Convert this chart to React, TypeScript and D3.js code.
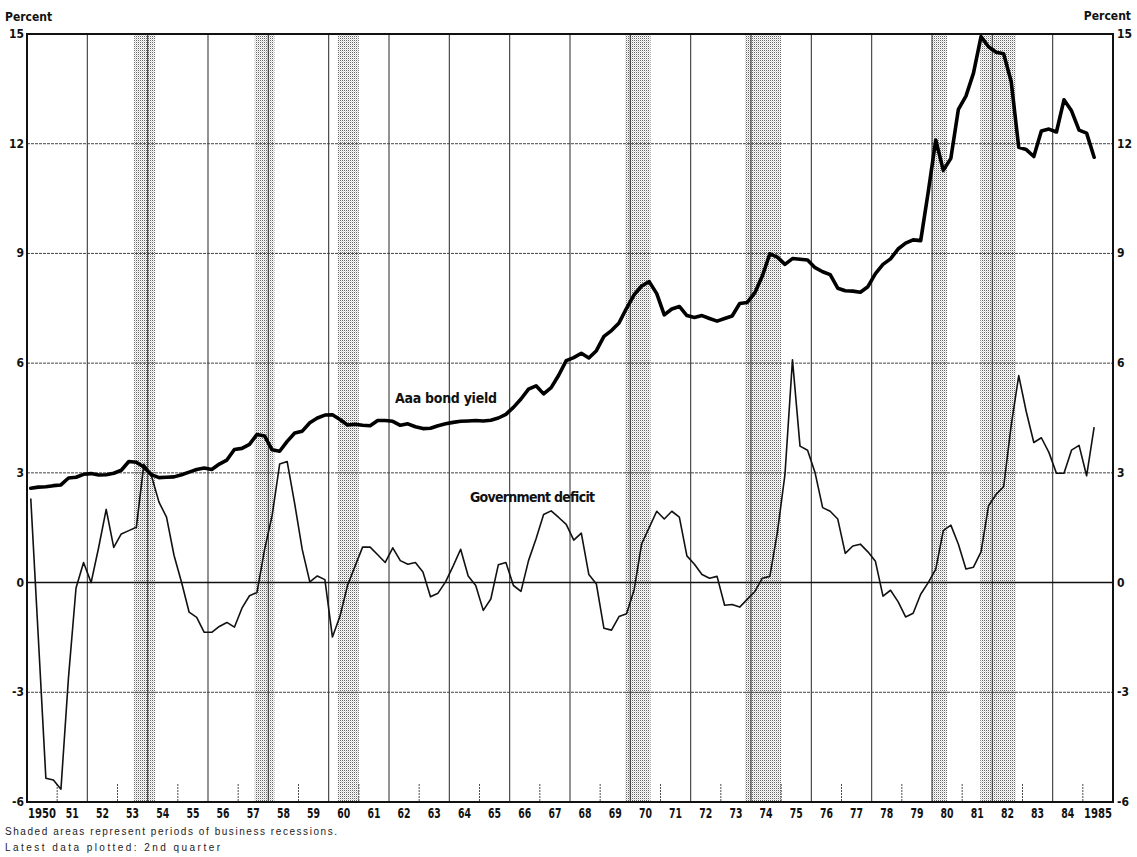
import React, { useEffect, useRef } from 'react';
import * as d3 from 'd3';

// quarterly data, first point = 1950 Q1, last point = 1985 Q2
const startYear = 1950;

// Aaa bond yield, percent
const bondYield = [
  2.58, 2.61, 2.62, 2.65, // 1950
  2.67, 2.86, 2.88, 2.96, // 1951
  2.98, 2.94, 2.95, 2.99, // 1952
  3.07, 3.31, 3.29, 3.16, // 1953
  2.95, 2.87, 2.88, 2.89, // 1954
  2.95, 3.02, 3.09, 3.13, // 1955
  3.09, 3.24, 3.35, 3.64, // 1956
  3.67, 3.78, 4.05, 4.01, // 1957
  3.63, 3.59, 3.86, 4.09, // 1958
  4.14, 4.37, 4.50, 4.58, // 1959
  4.59, 4.46, 4.31, 4.33, // 1960
  4.30, 4.29, 4.43, 4.43, // 1961
  4.41, 4.30, 4.34, 4.26, // 1962
  4.21, 4.22, 4.29, 4.34, // 1963
  4.38, 4.41, 4.42, 4.43, // 1964
  4.42, 4.44, 4.50, 4.60, // 1965
  4.79, 5.02, 5.29, 5.38, // 1966
  5.16, 5.33, 5.67, 6.07, // 1967
  6.15, 6.27, 6.14, 6.34, // 1968
  6.73, 6.89, 7.10, 7.50, // 1969
  7.87, 8.11, 8.23, 7.90, // 1970
  7.32, 7.48, 7.55, 7.30, // 1971
  7.25, 7.30, 7.22, 7.15, // 1972
  7.22, 7.29, 7.63, 7.66, // 1973
  7.92, 8.38, 8.99, 8.90, // 1974
  8.70, 8.86, 8.84, 8.82, // 1975
  8.61, 8.50, 8.42, 8.05, // 1976
  7.98, 7.97, 7.94, 8.09, // 1977
  8.45, 8.70, 8.85, 9.12, // 1978
  9.28, 9.37, 9.35, 10.68, // 1979
  12.10, 11.27, 11.60, 12.94, // 1980
  13.30, 13.93, 14.93, 14.65, // 1981
  14.50, 14.46, 13.70, 11.90, // 1982
  11.84, 11.65, 12.35, 12.40, // 1983
  12.32, 13.20, 12.90, 12.37, // 1984
  12.29, 11.63 // 1985
];

// Government deficit, percent
const govDeficit = [
  2.30, -1.50, -5.35, -5.40, // 1950
  -5.65, -2.60, -0.15, 0.55, // 1951
  0.00, 0.96, 2.00, 0.96, // 1952
  1.33, 1.42, 1.51, 3.24, // 1953
  2.92, 2.20, 1.79, 0.74, // 1954
  0.00, -0.81, -0.95, -1.36, // 1955
  -1.36, -1.20, -1.09, -1.22, // 1956
  -0.70, -0.36, -0.27, 0.90, // 1957
  1.83, 3.24, 3.31, 2.15, // 1958
  0.90, 0.02, 0.18, 0.08, // 1959
  -1.49, -0.92, -0.08, 0.45, // 1960
  0.97, 0.97, 0.76, 0.55, // 1961
  0.95, 0.60, 0.50, 0.55, // 1962
  0.29, -0.39, -0.29, 0.02, // 1963
  0.45, 0.91, 0.18, -0.08, // 1964
  -0.76, -0.45, 0.49, 0.55, // 1965
  -0.08, -0.24, 0.60, 1.20, // 1966
  1.86, 1.96, 1.78, 1.59, // 1967
  1.16, 1.35, 0.22, -0.04, // 1968
  -1.25, -1.30, -0.93, -0.85, // 1969
  -0.20, 1.06, 1.50, 1.95, // 1970
  1.74, 1.95, 1.79, 0.73, // 1971
  0.50, 0.22, 0.12, 0.17, // 1972
  -0.62, -0.60, -0.67, -0.46, // 1973
  -0.25, 0.12, 0.17, 1.38, // 1974
  2.95, 6.09, 3.73, 3.62, // 1975
  3.00, 2.05, 1.95, 1.74, // 1976
  0.80, 1.00, 1.05, 0.84, // 1977
  0.58, -0.37, -0.21, -0.52, // 1978
  -0.94, -0.84, -0.32, 0.00, // 1979
  0.37, 1.42, 1.57, 1.05, // 1980
  0.37, 0.42, 0.84, 2.10, // 1981
  2.41, 2.62, 4.30, 5.66, // 1982
  4.67, 3.83, 3.96, 3.56, // 1983
  2.99, 2.99, 3.62, 3.75, // 1984
  2.92, 4.25 // 1985
];

// business recessions (shaded), in fractional years
const recessionStart = [1953.55, 1957.55, 1960.3, 1969.83, 1973.8, 1980.0, 1981.6];
const recessionEnd = [1954.25, 1958.2, 1961.0, 1970.67, 1975.0, 1980.5, 1982.78];

const yTicks = [-6, -3, 0, 3, 6, 9, 12, 15];
const yearLabels = ['1950', '51', '52', '53', '54', '55', '56', '57', '58', '59',
  '60', '61', '62', '63', '64', '65', '66', '67', '68', '69',
  '70', '71', '72', '73', '74', '75', '76', '77', '78', '79',
  '80', '81', '82', '83', '84', '1985'];

const boldFont = '"Liberation Sans Narrow", "DejaVu Sans Condensed", "Roboto Condensed", "Liberation Sans", sans-serif';
const lightFont = '"Liberation Sans", "DejaVu Sans", sans-serif';

export default function App() {
  const ref = useRef<SVGSVGElement>(null);

  useEffect(() => {
    const svg = d3.select(ref.current);
    svg.selectAll('*').remove();

    const left = 27, right = 1113, top = 34, bottom = 802;

    const x = d3.scaleLinear().domain([1950, 1986]).range([left, right]);
    const y = d3.scaleLinear().domain([-6, 15]).range([bottom, top]);

    const defs = svg.append('defs');
    const pat = defs.append('pattern')
      .attr('id', 'stipple')
      .attr('patternUnits', 'userSpaceOnUse')
      .attr('width', 2)
      .attr('height', 2);
    pat.append('rect').attr('x', 0).attr('y', 0).attr('width', 1).attr('height', 1).attr('fill', '#666');
    pat.append('rect').attr('x', 1).attr('y', 1).attr('width', 1).attr('height', 1).attr('fill', '#d4d4d4');

    svg.append('rect').attr('width', 1137).attr('height', 857).attr('fill', '#fff');

    // recession shading
    svg.append('g')
      .selectAll('rect')
      .data(recessionStart)
      .enter()
        .append('rect')
        .attr('x', d => x(d))
        .attr('width', (d, i) => x(recessionEnd[i]) - x(d))
        .attr('y', top)
        .attr('height', bottom - top)
        .attr('fill', 'url(#stipple)');

    // vertical grid every other year, short ticks on the odd years
    const years = d3.range(1951, 1986);
    svg.append('g')
      .selectAll('line')
      .data(years)
      .enter()
        .append('line')
        .attr('x1', d => x(d))
        .attr('x2', d => x(d))
        .attr('y1', d => d % 2 === 0 ? top : bottom - 18)
        .attr('y2', bottom)
        .attr('stroke', '#3a3a3a')
        .attr('stroke-width', d => d % 2 === 0 ? 1.1 : 0.9)
        .attr('stroke-dasharray', d => d % 2 === 0 ? null : '2,1');

    // horizontal grid
    svg.append('g')
      .selectAll('line')
      .data(yTicks.filter(d => d !== -6 && d !== 15 && d !== 0))
      .enter()
        .append('line')
        .attr('x1', left)
        .attr('x2', right)
        .attr('y1', d => y(d))
        .attr('y2', d => y(d))
        .attr('stroke', '#444')
        .attr('stroke-width', 1)
        .attr('stroke-dasharray', '3,1');

    svg.append('line')
      .attr('x1', left).attr('x2', right)
      .attr('y1', y(0)).attr('y2', y(0))
      .attr('stroke', '#111').attr('stroke-width', 1.6);

    // frame
    svg.append('rect')
      .attr('x', left).attr('y', top)
      .attr('width', right - left).attr('height', bottom - top)
      .attr('fill', 'none')
      .attr('stroke', '#111')
      .attr('stroke-width', 2);

    const quarterTime = (i: number) => startYear + (i + 0.5) / 4;

    const line = d3.line<number>()
      .x((d, i) => x(quarterTime(i)))
      .y(d => y(d));

    svg.append('path')
      .attr('d', line(govDeficit))
      .attr('fill', 'none')
      .attr('stroke', '#111')
      .attr('stroke-width', 1.6)
      .attr('stroke-linejoin', 'round');

    svg.append('path')
      .attr('d', line(bondYield))
      .attr('fill', 'none')
      .attr('stroke', '#000')
      .attr('stroke-width', 3.6)
      .attr('stroke-linejoin', 'round')
      .attr('stroke-linecap', 'round');

    // axis labels
    const axisText = svg.append('g')
      .attr('font-family', boldFont)
      .attr('font-weight', 'bold')
      .attr('font-size', 12)
      .attr('fill', '#111');

    axisText.selectAll('text.l')
      .data(yTicks)
      .enter()
        .append('text')
        .attr('class', 'l')
        .attr('x', 24)
        .attr('y', d => y(d) + 4)
        .attr('text-anchor', 'end')
        .text(d => String(d));

    axisText.selectAll('text.r')
      .data(yTicks)
      .enter()
        .append('text')
        .attr('class', 'r')
        .attr('x', 1117)
        .attr('y', d => y(d) + 4)
        .attr('text-anchor', 'start')
        .text(d => String(d));

    axisText.append('text').attr('x', 5).attr('y', 21).text('Percent');
    axisText.append('text').attr('x', 1131).attr('y', 20).attr('text-anchor', 'end').text('Percent');

    svg.append('g')
      .attr('font-family', boldFont)
      .attr('font-weight', 'bold')
      .attr('font-size', 14)
      .attr('fill', '#111')
      .selectAll('text')
      .data(yearLabels)
      .enter()
        .append('text')
        .attr('x', (d, i) => x(1950 + i + 0.5) - (d.length > 2 ? 14 : 6.5))
        .attr('y', 818)
        .attr('textLength', d => d.length > 2 ? 28 : 13)
        .attr('lengthAdjust', 'spacingAndGlyphs')
        .text(d => d);

    // series labels
    const seriesText = svg.append('g')
      .attr('font-family', boldFont)
      .attr('font-weight', 'bold')
      .attr('font-size', 14)
      .attr('fill', '#111');
    seriesText.append('text')
      .attr('x', 395).attr('y', 403)
      .attr('textLength', 102).attr('lengthAdjust', 'spacing')
      .text('Aaa bond yield');
    seriesText.append('text')
      .attr('x', 470).attr('y', 502)
      .attr('textLength', 125).attr('lengthAdjust', 'spacing')
      .text('Government deficit');

    // notes
    const notes = svg.append('g')
      .attr('font-family', lightFont)
      .attr('font-size', 10)
      .attr('fill', '#222');
    notes.append('text')
      .attr('x', 5).attr('y', 835)
      .attr('textLength', 332).attr('lengthAdjust', 'spacing')
      .text('Shaded areas represent periods of business recessions.');
    notes.append('text')
      .attr('x', 5).attr('y', 851)
      .attr('textLength', 215).attr('lengthAdjust', 'spacing')
      .text('Latest data plotted: 2nd quarter');
  }, []);

  return (
    <svg ref={ref} width={1137} height={857}
      style={{ position: 'absolute', left: 0, top: 0, background: '#fff' }} />
  );
}
